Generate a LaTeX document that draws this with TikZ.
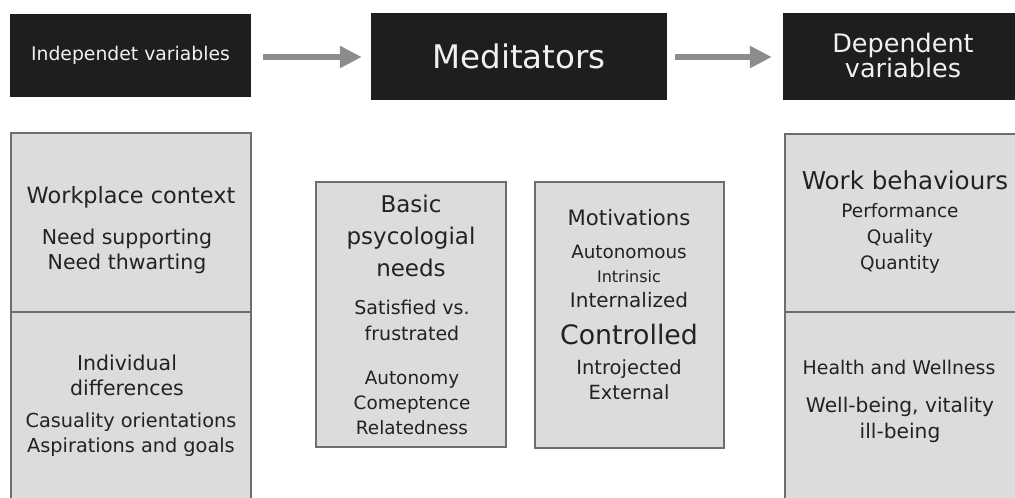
\documentclass[tikz,border=0pt]{standalone}
\usepackage{fontspec}
\setmainfont{DejaVu Sans}
\usetikzlibrary{arrows.meta}
\definecolor{boxblack}{HTML}{1E1E1E}
\definecolor{boxgray}{HTML}{DCDCDC}
\definecolor{edgegray}{HTML}{6E6E6E}
\definecolor{arrowgray}{HTML}{8C8C8C}
\definecolor{ink}{HTML}{222222}
\newcommand{\fs}[2]{\fontsize{#1}{#2}\selectfont}
\tikzset{
  x=1pt, y=-1pt,
  headbox/.style={fill=boxblack, draw=none, inner sep=0pt, text=white!94!black, align=center},
  graybox/.style={fill=boxgray, draw=edgegray, line width=1.2pt},
  txt/.style={text=ink, align=center, inner sep=0pt},
  flowarrow/.style={draw=arrowgray, line width=6pt, -{Triangle[length=22pt,width=21pt]}},
}
\begin{document}
\begin{tikzpicture}
\useasboundingbox (0,0) rectangle (1015,498);
\fill[white] (0,0) rectangle (1015,498);
% header boxes
\node[headbox, minimum width=241pt, minimum height=83pt, font=\fs{18.8}{20}] (h1) at (130.5,55.5) {Independet variables};
\node[headbox, minimum width=296pt, minimum height=87pt, font=\fs{32.5}{34}] (h2) at (519,56.5) {Meditators};
\node[headbox, minimum width=240pt, minimum height=87pt] (h3) at (903,56.5) {};
\node[txt, text=white!94!black, font=\fs{25.5}{25}] (h3t) at (903,55) {Dependent\\variables};
% arrows
\draw[flowarrow, shorten <=12pt, shorten >=9pt] (h1.east |- 0,57) -- (h2.west |- 0,57);
\draw[flowarrow, shorten <=8pt, shorten >=11pt] (h2.east |- 0,57) -- (h3.west |- 0,57);
% gray boxes
\draw[graybox] (11,133) rectangle (251,520);
\draw[graybox] (11,312) -- (251,312);
\draw[graybox] (316,182) rectangle (506,447);
\draw[graybox] (535,182) rectangle (724,448);
\draw[graybox] (785,134) rectangle (1030,520);
\draw[graybox] (785,312) -- (1030,312);
% left box
\node[txt, font=\fs{22.4}{25}] (wc) at (131,197) {Workplace context};
\node[txt, font=\fs{20.5}{25}] (ns) at (127,251) {Need supporting\\Need thwarting};
\node[txt, font=\fs{20.5}{25}] (id) at (127,375) {Individual\\differences};
\node[txt, font=\fs{19.3}{25}] (ca) at (131,435) {Casuality orientations\\Aspirations and goals};
% middle box 1
\node[txt, font=\fs{23}{32}] (bp) at (411,236) {Basic\\psycologial\\needs};
\node[txt, font=\fs{19}{26}] (sf) at (412,320) {Satisfied vs.\\frustrated};
\node[txt, font=\fs{18.4}{25}] (ac) at (412,403) {Autonomy\\Comeptence\\Relatedness};
% middle box 2
\node[txt, font=\fs{21.2}{22}] (mo) at (629,218) {Motivations};
\node[txt, font=\fs{18.3}{20}] (au) at (629,252) {Autonomous};
\node[txt, font=\fs{16}{16}] (in) at (629,277) {Intrinsic};
\node[txt, font=\fs{20}{20}] (iz) at (629,300) {Internalized};
\node[txt, font=\fs{26.8}{28}] (co) at (629,335) {Controlled};
\node[txt, font=\fs{19.5}{25}] (ie) at (629,380) {Introjected\\External};
% right box
\node[txt, font=\fs{24.6}{25}] (wb) at (905,180) {Work behaviours};
\node[txt, font=\fs{18.5}{26}] (pq) at (900,238) {Performance\\Quality\\Quantity};
\node[txt, font=\fs{18.9}{20}] (hw) at (899,367) {Health and Wellness};
\node[txt, font=\fs{20.2}{26}] (wv) at (900,420) {Well-being, vitality\\ill-being};
\end{tikzpicture}
\end{document}
